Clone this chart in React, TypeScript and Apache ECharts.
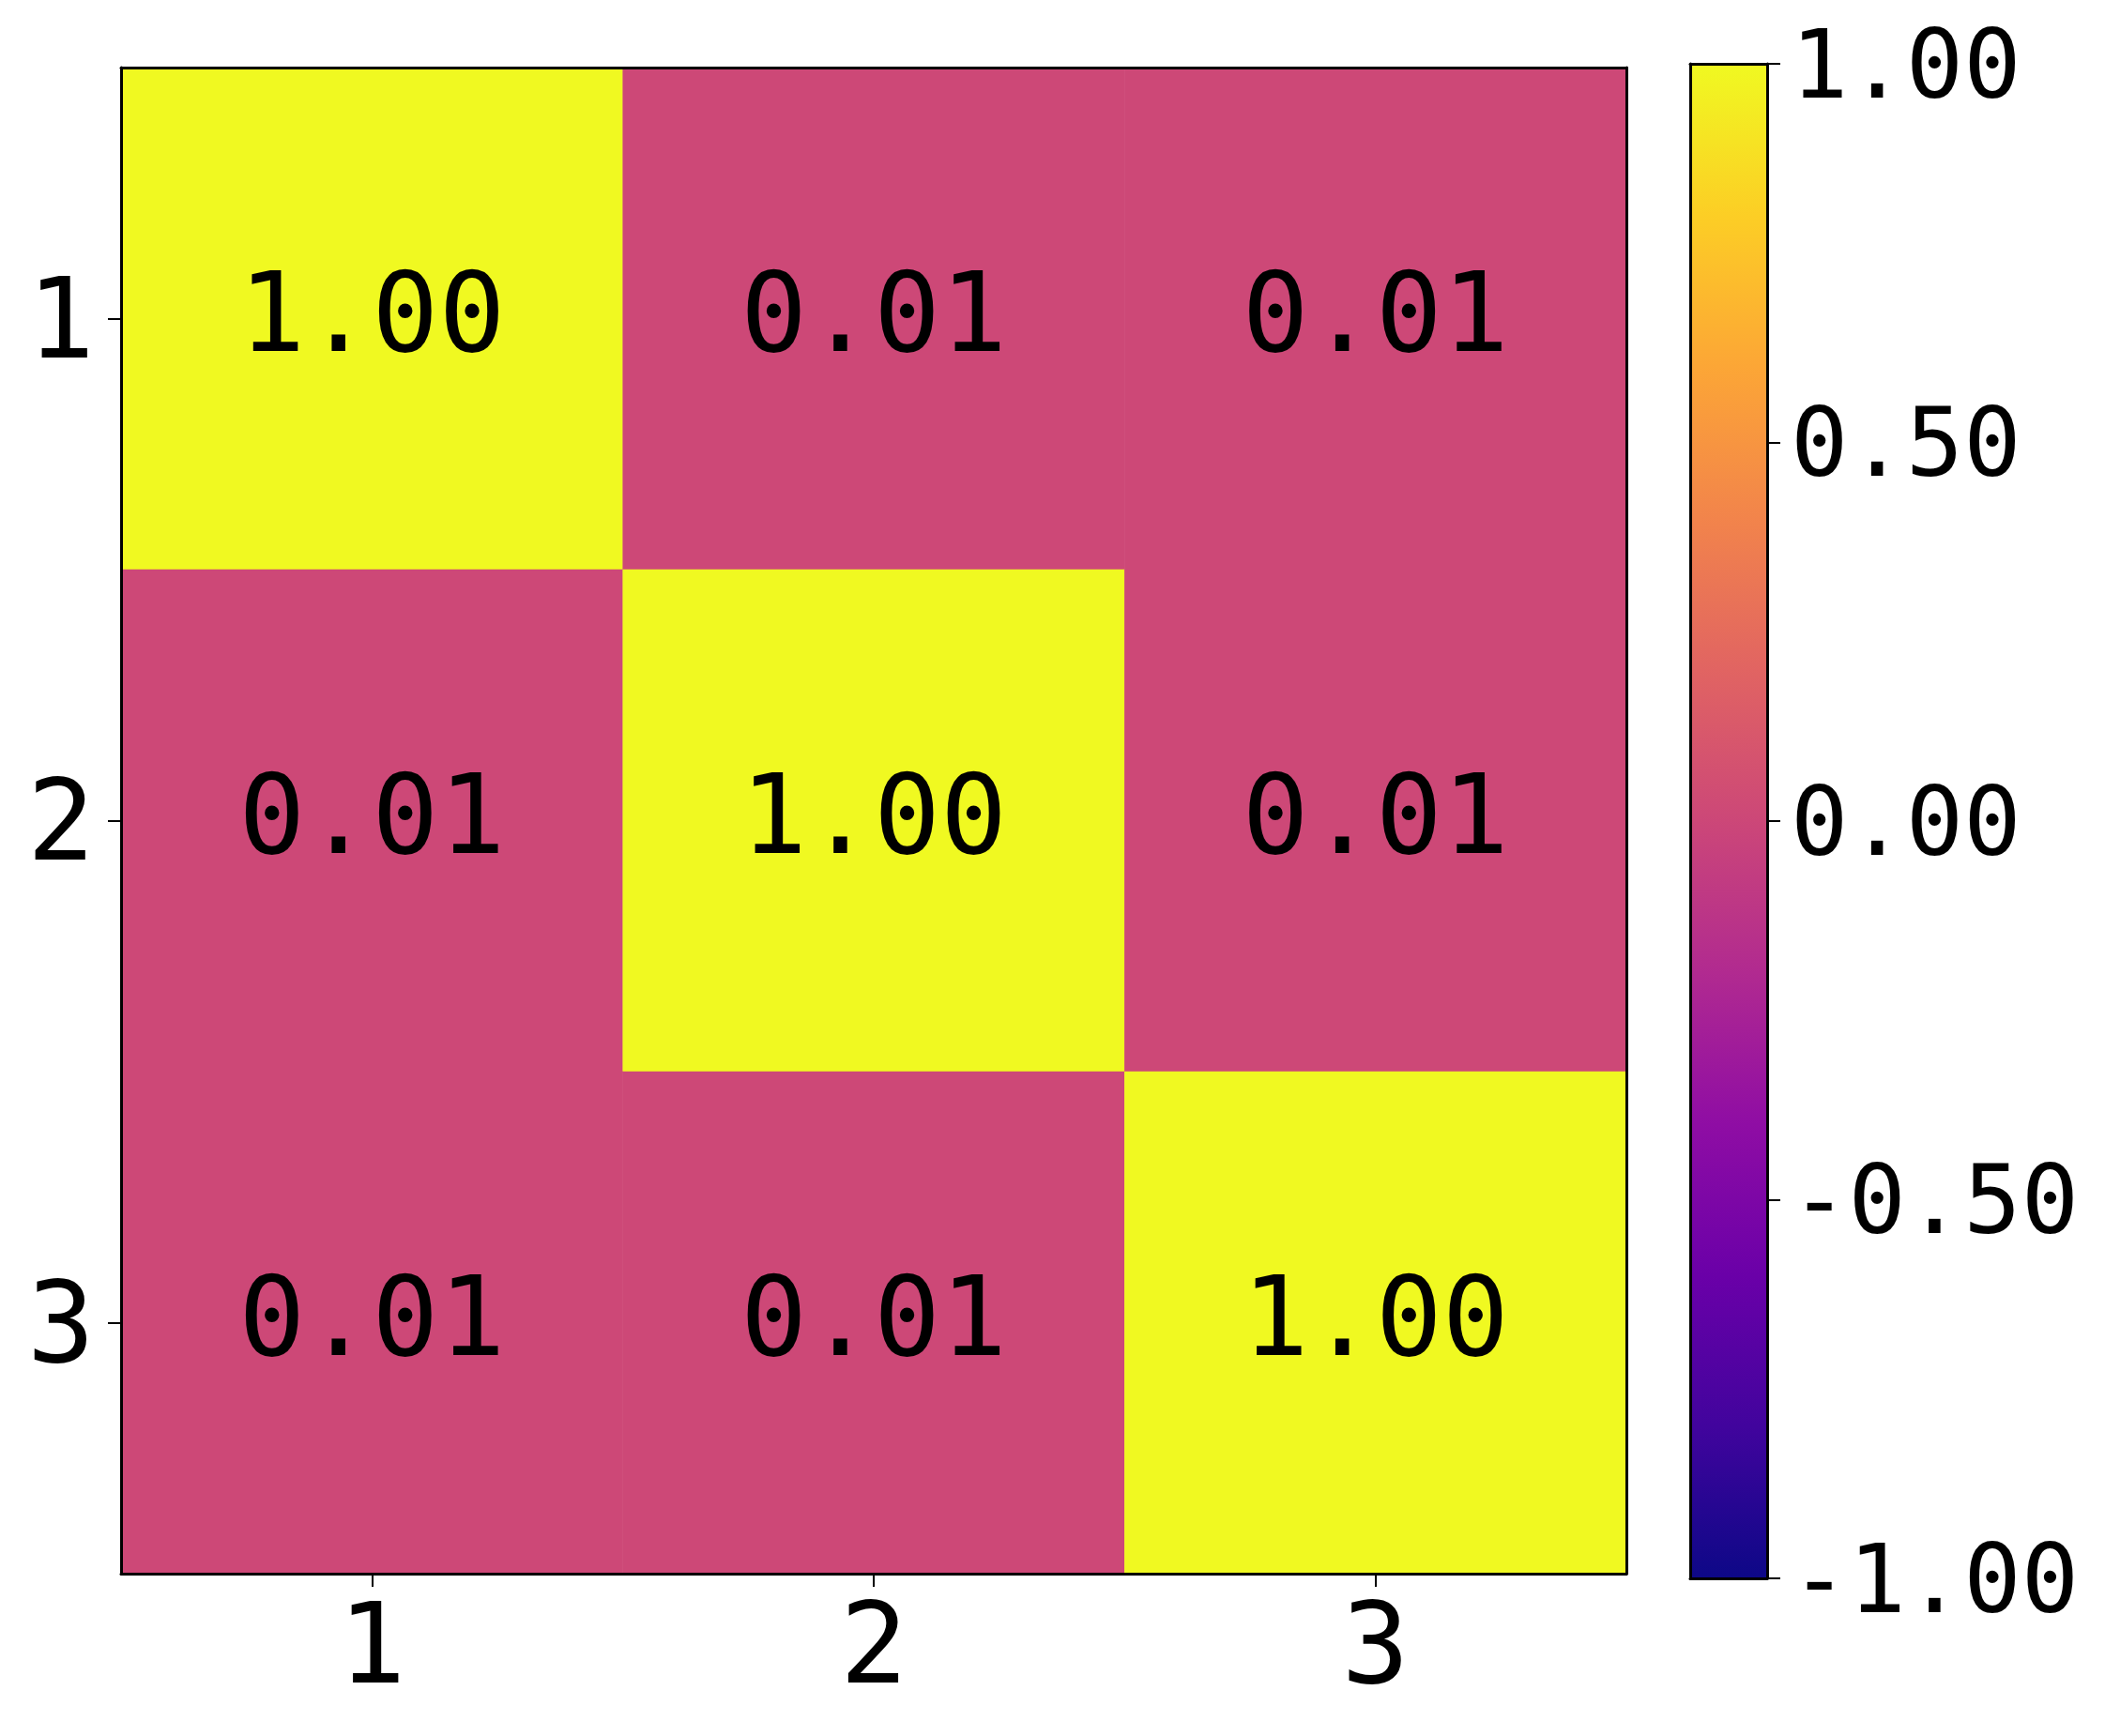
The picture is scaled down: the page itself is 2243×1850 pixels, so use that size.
import React, { useEffect, useRef } from "react";
import * as echarts from "echarts";

const categories = ["1", "2", "3"];
const matrix = [
  [1.0, 0.01, 0.01],
  [0.01, 1.0, 0.01],
  [0.01, 0.01, 1.0],
];
const colorbarTicks = [-1, -0.5, 0, 0.5, 1];
const plasma = [
  "#0d0887", "#41049d", "#6a00a8", "#8f0da4", "#b12a90",
  "#cc4778", "#e16462", "#f2844b", "#fca636", "#fcce25", "#f0f921",
];

const FONT = "DejaVu Sans Mono";
const frameLine = { show: true, onZero: false, lineStyle: { color: "#000", width: 3 } };

export default function App() {
  const ref = useRef<HTMLDivElement>(null);
  useEffect(() => {
    if (!ref.current) return;
    const chart = echarts.init(ref.current, undefined, { renderer: "svg" });
    const heatData: number[][] = [];
    matrix.forEach((row, r) => row.forEach((v, c) => heatData.push([c, r, v])));
    const vMin = colorbarTicks[0];
    const vMax = colorbarTicks[colorbarTicks.length - 1];
    const gradStops = plasma
      .map((c, i) => ({ offset: 1 - i / (plasma.length - 1), color: c }))
      .reverse();

    chart.setOption({
      animation: false,
      backgroundColor: "#ffffff",
      grid: [
        { left: 129, top: 72, width: 1604, height: 1605, show: false, containLabel: false },
        { left: 1801, top: 68, width: 82, height: 1614, show: false, containLabel: false },
      ],
      xAxis: [
        {
          type: "category",
          data: categories,
          gridIndex: 0,
          position: "bottom",
          z: 10,
          axisLine: frameLine,
          axisTick: { show: true, alignWithLabel: true, length: 14, lineStyle: { color: "#000", width: 2 } },
          axisLabel: { fontFamily: FONT, fontSize: 120, color: "#000", margin: 14 },
          splitLine: { show: false },
        },
        {
          type: "category",
          data: categories,
          gridIndex: 0,
          position: "top",
          z: 10,
          axisLine: frameLine,
          axisTick: { show: false },
          axisLabel: { show: false },
          splitLine: { show: false },
        },
        {
          type: "value", gridIndex: 1, min: 0, max: 1, position: "bottom", z: 10,
          axisLine: frameLine, axisTick: { show: false }, axisLabel: { show: false }, splitLine: { show: false },
        },
        {
          type: "value", gridIndex: 1, min: 0, max: 1, position: "top", z: 10,
          axisLine: frameLine, axisTick: { show: false }, axisLabel: { show: false }, splitLine: { show: false },
        },
      ],
      yAxis: [
        {
          type: "category",
          data: categories,
          gridIndex: 0,
          inverse: true,
          position: "left",
          z: 10,
          axisLine: frameLine,
          axisTick: { show: true, alignWithLabel: true, length: 14, lineStyle: { color: "#000", width: 2 } },
          axisLabel: { fontFamily: FONT, fontSize: 120, color: "#000", margin: 28 },
          splitLine: { show: false },
        },
        {
          type: "category",
          data: categories,
          gridIndex: 0,
          inverse: true,
          position: "right",
          z: 10,
          axisLine: frameLine,
          axisTick: { show: false },
          axisLabel: { show: false },
          splitLine: { show: false },
        },
        {
          type: "value",
          gridIndex: 1,
          min: vMin,
          max: vMax,
          interval: 0.5,
          position: "right",
          z: 10,
          axisLine: frameLine,
          axisTick: { show: true, length: 14, lineStyle: { color: "#000", width: 2 } },
          axisLabel: {
            fontFamily: FONT,
            fontSize: 102,
            color: "#000",
            margin: 25,
            formatter: (v: number) => v.toFixed(2),
          },
          splitLine: { show: false },
        },
        {
          type: "value",
          gridIndex: 1,
          min: vMin,
          max: vMax,
          interval: 0.5,
          position: "left",
          z: 10,
          axisLine: frameLine,
          axisTick: { show: false },
          axisLabel: { show: false },
          splitLine: { show: false },
        },
      ],
      visualMap: {
        type: "continuous",
        show: false,
        min: vMin,
        max: vMax,
        seriesIndex: 0,
        inRange: { color: plasma },
      },
      series: [
        {
          type: "heatmap",
          xAxisIndex: 0,
          yAxisIndex: 0,
          data: heatData,
          label: {
            show: true,
            fontFamily: FONT,
            fontSize: 118,
            color: "#000",
            offset: [0, -7],
            formatter: (p: any) => Number(p.value[2]).toFixed(2),
          },
          itemStyle: { borderWidth: 0 },
          emphasis: { disabled: true },
        },
        {
          type: "custom",
          xAxisIndex: 2,
          yAxisIndex: 2,
          data: [[0, vMin]],
          z: 1,
          renderItem: (_params: any, api: any) => {
            const p1 = api.coord([0, vMax]);
            const p2 = api.coord([1, vMin]);
            return {
              type: "rect",
              shape: { x: p1[0], y: p1[1], width: p2[0] - p1[0], height: p2[1] - p1[1] },
              style: { fill: new echarts.graphic.LinearGradient(0, 0, 0, 1, gradStops) },
            };
          },
        },
      ],
    });
    return () => chart.dispose();
  }, []);
  return (
    <div
      ref={ref}
      style={{ position: "absolute", left: 0, top: 0, width: 2243, height: 1850 }}
    />
  );
}
